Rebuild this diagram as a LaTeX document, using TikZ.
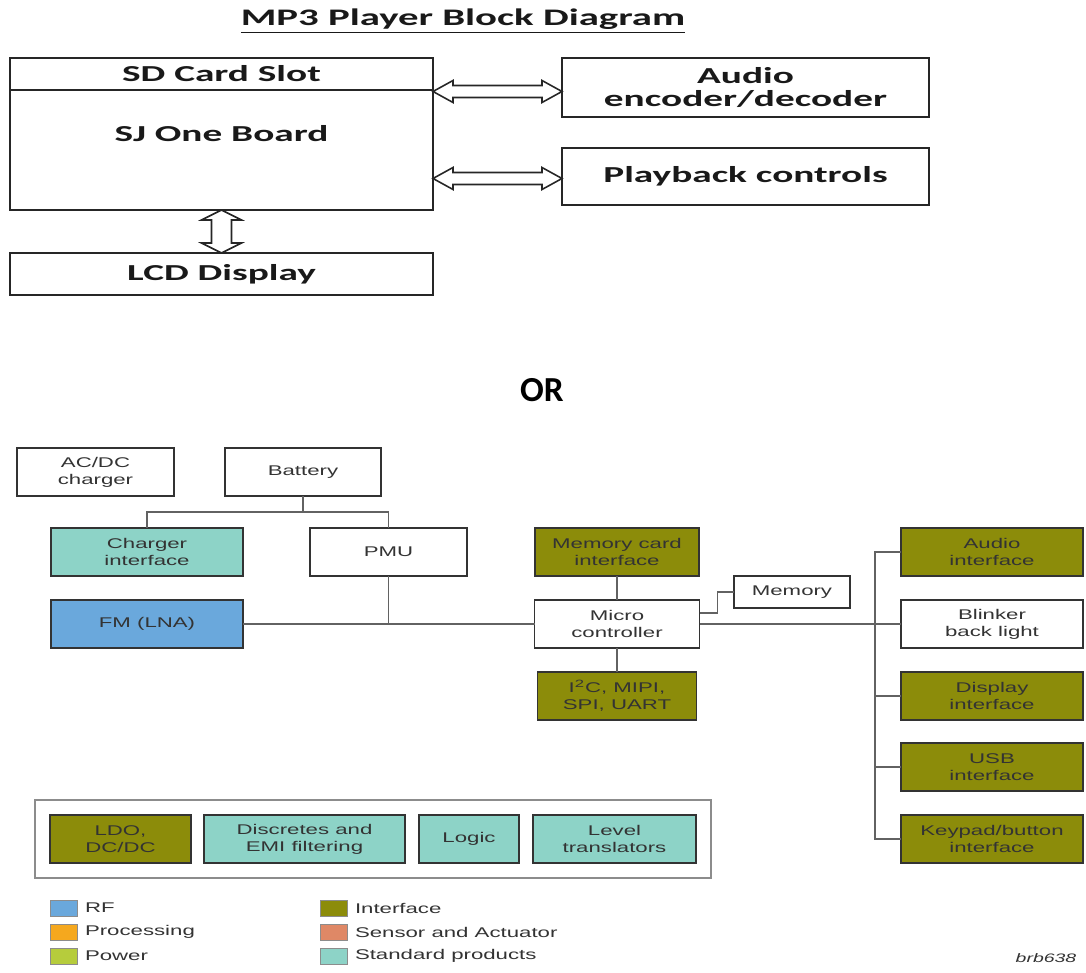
\documentclass[tikz,border=0pt]{standalone}
\usepackage{fontspec}
\usepackage{tikz}
\usetikzlibrary{calc,fit,positioning}

\newfontfamily\topfont[FakeStretch=1.72]{Carlito}
\newfontfamily\orfont{Carlito}
\newfontfamily\bottomfont[FakeStretch=1.58]{Liberation Sans}
\newcommand{\pxl}{0.2mm}

\definecolor{olivo}{HTML}{8C8C0A}
\definecolor{turquesa}{HTML}{8DD3C7}
\definecolor{azulrf}{HTML}{6AA8DC}
\definecolor{naranja}{HTML}{F5A81E}
\definecolor{verdepw}{HTML}{B6CC3C}
\definecolor{salmon}{HTML}{DF8866}
\definecolor{tinta}{HTML}{333333}
\definecolor{trazo}{HTML}{626262}

\begin{document}
\begin{tikzpicture}[x=0.2mm, y=-0.2mm, outer sep=0pt, line join=miter]
	\tikzset{tbox/.style 2 args={draw=black!85, line width=1.4pt, minimum width=#1*\pxl, minimum height=#2*\pxl, inner sep=0pt, align=center, text=black!90, font=\topfont\bfseries\fontsize{13}{13.5}\selectfont}}
	\tikzset{bbox/.style 2 args={draw=black!80, line width=1.1pt, minimum width=#1*\pxl, minimum height=#2*\pxl, inner sep=0pt, align=center, text=tinta, font=\bottomfont\fontsize{8}{9.6}\selectfont}}
	\tikzset{linea/.style={draw=trazo, line width=0.9pt}}
	\tikzset{flecha/.style={draw=black!85, line width=0.9pt, fill=white}}
	\tikzset{leyenda/.style={draw=black!45, line width=0.5pt, minimum width=27*\pxl, minimum height=16*\pxl, inner sep=0pt}}
	\tikzset{ltexto/.style={inner sep=0pt, text=tinta, font=\bottomfont\fontsize{8}{9.6}\selectfont}}

	\useasboundingbox (0,0) rectangle (1086,973);

	%TITULO
	\node[font=\topfont\bfseries\fontsize{13.5}{14}\selectfont, text=black!90] (titulo) at (463,21) {\underline{MP3 Player Block Diagram}};

	%BLOQUES SUPERIORES
	\node[tbox={423}{32}]		(sd)	at (221.5,74)	{SD Card Slot};
	\node[tbox={423}{120}]		(sj)	at (221.5,150)	{};
	\node[tbox={0}{0}, draw=none]	(sjtxt)	at ([yshift=-8.8mm]sj.north)	{SJ One Board};
	\node[tbox={423}{42}]		(lcd)	at (221.5,274)	{LCD Display};
	\node[tbox={367}{59}]		(audio)	at (745.5,87.5)	{Audio\\encoder/decoder};
	\node[tbox={367}{57}]		(play)	at (745.5,176.5)	{Playback controls};

	%FLECHAS
	\coordinate (a1i) at ([yshift=-0.8mm]sj.east |- audio.west);
	\coordinate (a1d) at ([yshift=-0.8mm]audio.west);
	\coordinate (a2i) at ([yshift=-0.4mm]sj.east |- play.west);
	\coordinate (a2d) at ([yshift=-0.4mm]play.west);
	\draw[flecha] (a1i) -- ++(20,-11) -- ++(0,5) -- ($(a1d)+(-20,-6)$) -- ++(0,-5) -- (a1d) -- ++(-20,11) -- ++(0,-5) -- ($(a1i)+(20,6)$) -- ++(0,5) -- cycle;
	\draw[flecha] (a2i) -- ++(20,-11) -- ++(0,5) -- ($(a2d)+(-20,-6)$) -- ++(0,-5) -- (a2d) -- ++(-20,11) -- ++(0,-5) -- ($(a2i)+(20,6)$) -- ++(0,5) -- cycle;
	\draw[flecha] (sj.south) -- ++(20,10) -- ++(-10,0) -- ($(lcd.north)+(10,-10)$) -- ++(10,0) -- (lcd.north) -- ++(-20,-10) -- ++(10,0) -- ($(sj.south)+(-10,10)$) -- ++(-10,0) -- cycle;

	\node[font=\orfont\bfseries\fontsize{20}{22}\selectfont] (or) at (542,390) {OR};

	%BLOQUES INFERIORES
	\node[bbox={157}{48}]			(acdc)		at (95.5,472)	{AC/DC\\charger};
	\node[bbox={156}{48}]			(batt)		at (303,472)	{Battery};
	\node[bbox={192}{48}, fill=turquesa]	(chgif)		at (147,552)	{Charger\\interface};
	\node[bbox={157}{48}]			(pmu)		at (388.5,552)	{PMU};
	\node[bbox={192}{48}, fill=azulrf]	(fm)		at (147,624)	{FM (LNA)};
	\node[bbox={164}{48}, fill=olivo]	(memcard)	at (617,552)	{Memory card\\interface};
	\node[bbox={165}{48}]			(micro)		at (617,624)	{Micro\\controller};
	\node[bbox={159}{48}, fill=olivo]	(i2c)		at (617,696)	{I\textsuperscript{2}C, MIPI,\\SPI, UART};
	\node[bbox={116}{32}]			(mem)		at (792,592)	{Memory};
	\node[bbox={182}{48}, fill=olivo]	(audioif)	at (992,552)	{Audio\\interface};
	\node[bbox={182}{48}]			(blink)		at (992,624)	{Blinker\\back light};
	\node[bbox={182}{48}, fill=olivo]	(dispif)	at (992,696)	{Display\\interface};
	\node[bbox={182}{48}, fill=olivo]	(usbif)		at (992,767)	{USB\\interface};
	\node[bbox={182}{48}, fill=olivo]	(keyif)		at (992,839)	{Keypad/button\\interface};

	%GRUPO
	\node[bbox={141}{48}, fill=olivo]	(ldo)		at (120.5,839)	{LDO,\\DC/DC};
	\node[bbox={201}{48}, fill=turquesa]	(disc)		at (304.5,839)	{Discretes and\\EMI filtering};
	\node[bbox={100}{48}, fill=turquesa]	(logic)		at (469,839)	{Logic};
	\node[bbox={163}{48}, fill=turquesa]	(level)		at (614.5,839)	{Level\\translators};
	\node[draw=black!45, line width=0.9pt, inner sep=3mm, fit=(ldo)(level)] (grupo) {};

	%CONEXIONES
	\coordinate (bj) at (303,512);
	\coordinate (bus) at ($(audioif.west)+(-26,0)$);
	\draw[linea] (batt.south) -- (bj);
	\draw[linea] (chgif.north) -- (chgif.north |- bj) -- (pmu.north |- bj) -- (pmu.north);
	\draw[linea] (fm.east) -- (micro.west);
	\draw[linea] (pmu.south) -- (pmu.south |- fm.east);
	\draw[linea] (memcard) -- (micro);
	\draw[linea] (micro) -- (i2c);
	\draw[linea] ([yshift=2.2mm]micro.east) -- ++(18,0) |- (mem.west);
	\draw[linea] (micro.east) -- (blink.west);
	\draw[linea] (audioif.west) -- (bus) |- (keyif.west);
	\draw[linea] (dispif.west) -- (dispif.west -| bus);
	\draw[linea] (usbif.west) -- (usbif.west -| bus);

	%LEYENDA
	\node[leyenda, fill=azulrf]	(lrf)	at (63.5,908)	{};
	\node[leyenda, fill=naranja]	(lproc)	at (63.5,932)	{};
	\node[leyenda, fill=verdepw]	(lpow)	at (63.5,956)	{};
	\node[leyenda, fill=olivo]	(lint)	at (333.5,908)	{};
	\node[leyenda, fill=salmon]	(lsen)	at (333.5,932)	{};
	\node[leyenda, fill=turquesa]	(lstd)	at (333.5,956)	{};
	\node[ltexto, right=1.6mm of lrf]	{RF};
	\node[ltexto, right=1.6mm of lproc]	{Processing};
	\node[ltexto, right=1.6mm of lpow]	{Power};
	\node[ltexto, right=1.6mm of lint]	{Interface};
	\node[ltexto, right=1.6mm of lsen]	{Sensor and Actuator};
	\node[ltexto, right=1.6mm of lstd]	{Standard products};
	\node[ltexto, font=\bottomfont\itshape\fontsize{7}{8}\selectfont] (ref) at (1046,958) {brb638};
\end{tikzpicture}
\end{document}
